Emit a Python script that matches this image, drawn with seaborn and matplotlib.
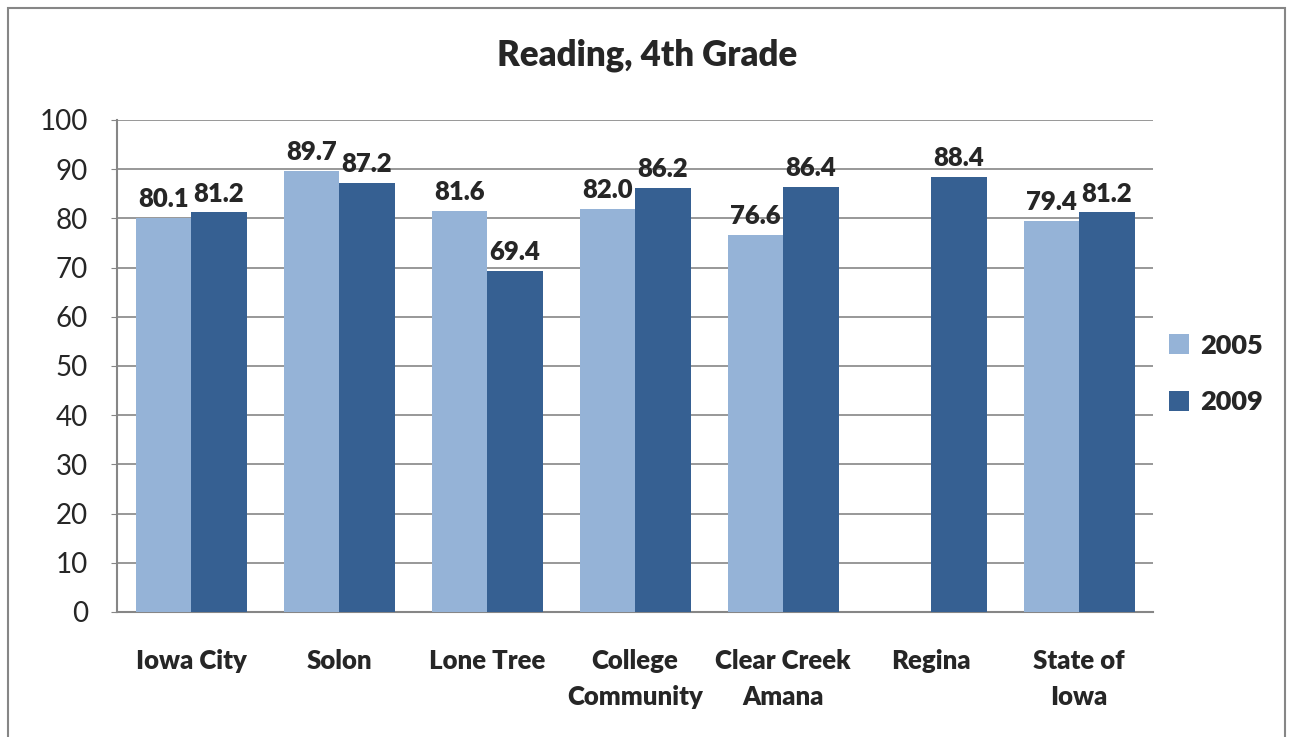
import numpy as np
import pandas as pd
import seaborn as sns
import matplotlib.pyplot as plt
from matplotlib.patches import Rectangle

districts = ['Iowa City', 'Solon', 'Lone Tree', 'College\nCommunity',
             'Clear Creek\nAmana', 'Regina', 'State of\nIowa']
y2005 = [80.1, 89.7, 81.6, 82.0, 76.6, np.nan, 79.4]
y2009 = [81.2, 87.2, 69.4, 86.2, 86.4, 88.4, 81.2]
years = ['2005', '2009']

df = pd.DataFrame({
    'district': districts * 2,
    'year': ['2005'] * len(districts) + ['2009'] * len(districts),
    'score': y2005 + y2009,
})

sns.set_style('white')
plt.rcParams['font.family'] = ['Lato', 'DejaVu Sans']
bold = 'heavy'

fig = plt.figure(figsize=(12.9, 7.37), dpi=100)
ax = fig.add_axes([117 / 1290, 1 - 612 / 737, (1153 - 117) / 1290, (612 - 120) / 737])

sns.barplot(data=df, x='district', y='score', hue='year', hue_order=years,
            order=districts, palette=['#95b3d7', '#366092'], width=0.75,
            saturation=1, linewidth=0, ax=ax, zorder=3)

for c in ax.containers:
    ax.bar_label(c, fmt=lambda v: '' if np.isnan(v) else f'{v:.1f}',
                 padding=5, fontsize=18.5, fontweight=bold)

ax.set_ylim(0, 100)
ax.set_yticks(range(0, 101, 10))
ax.set_xlim(-0.5, len(districts) - 0.5)
ax.yaxis.grid(True, color='#868686', linewidth=1.2, zorder=0)
ax.set_axisbelow(True)
ax.set_xlabel('')
ax.set_ylabel('')
for s in ['top', 'right']:
    ax.spines[s].set_visible(False)
for s in ['left', 'bottom']:
    ax.spines[s].set_color('#868686')
    ax.spines[s].set_linewidth(1.5)
ax.tick_params(axis='y', labelsize=20, left=True, length=4, color='#868686', pad=17)
ax.tick_params(axis='x', labelsize=18.5, bottom=False, pad=23)
for t in ax.get_xticklabels():
    t.set_fontweight(bold)
    t.set_verticalalignment('top')
    t.set_linespacing(1.6)

ax.legend(loc='center left', bbox_to_anchor=(0.992, 0.484), frameon=False,
          prop={'size': 19.5, 'weight': bold}, handlelength=0.75, handleheight=0.75,
          labelspacing=1.2, handletextpad=0.4)

fig.text(0.502, 0.925, 'Reading, 4th Grade', ha='center', va='center',
         fontsize=25, fontweight=bold)

fig.patches.append(Rectangle((8 / 1290, -0.05), (1285 - 8) / 1290, 1.05 - 8 / 737,
                             transform=fig.transFigure, fill=False,
                             edgecolor='#868686', linewidth=1.5))

fig.savefig('out.png', dpi=100)
